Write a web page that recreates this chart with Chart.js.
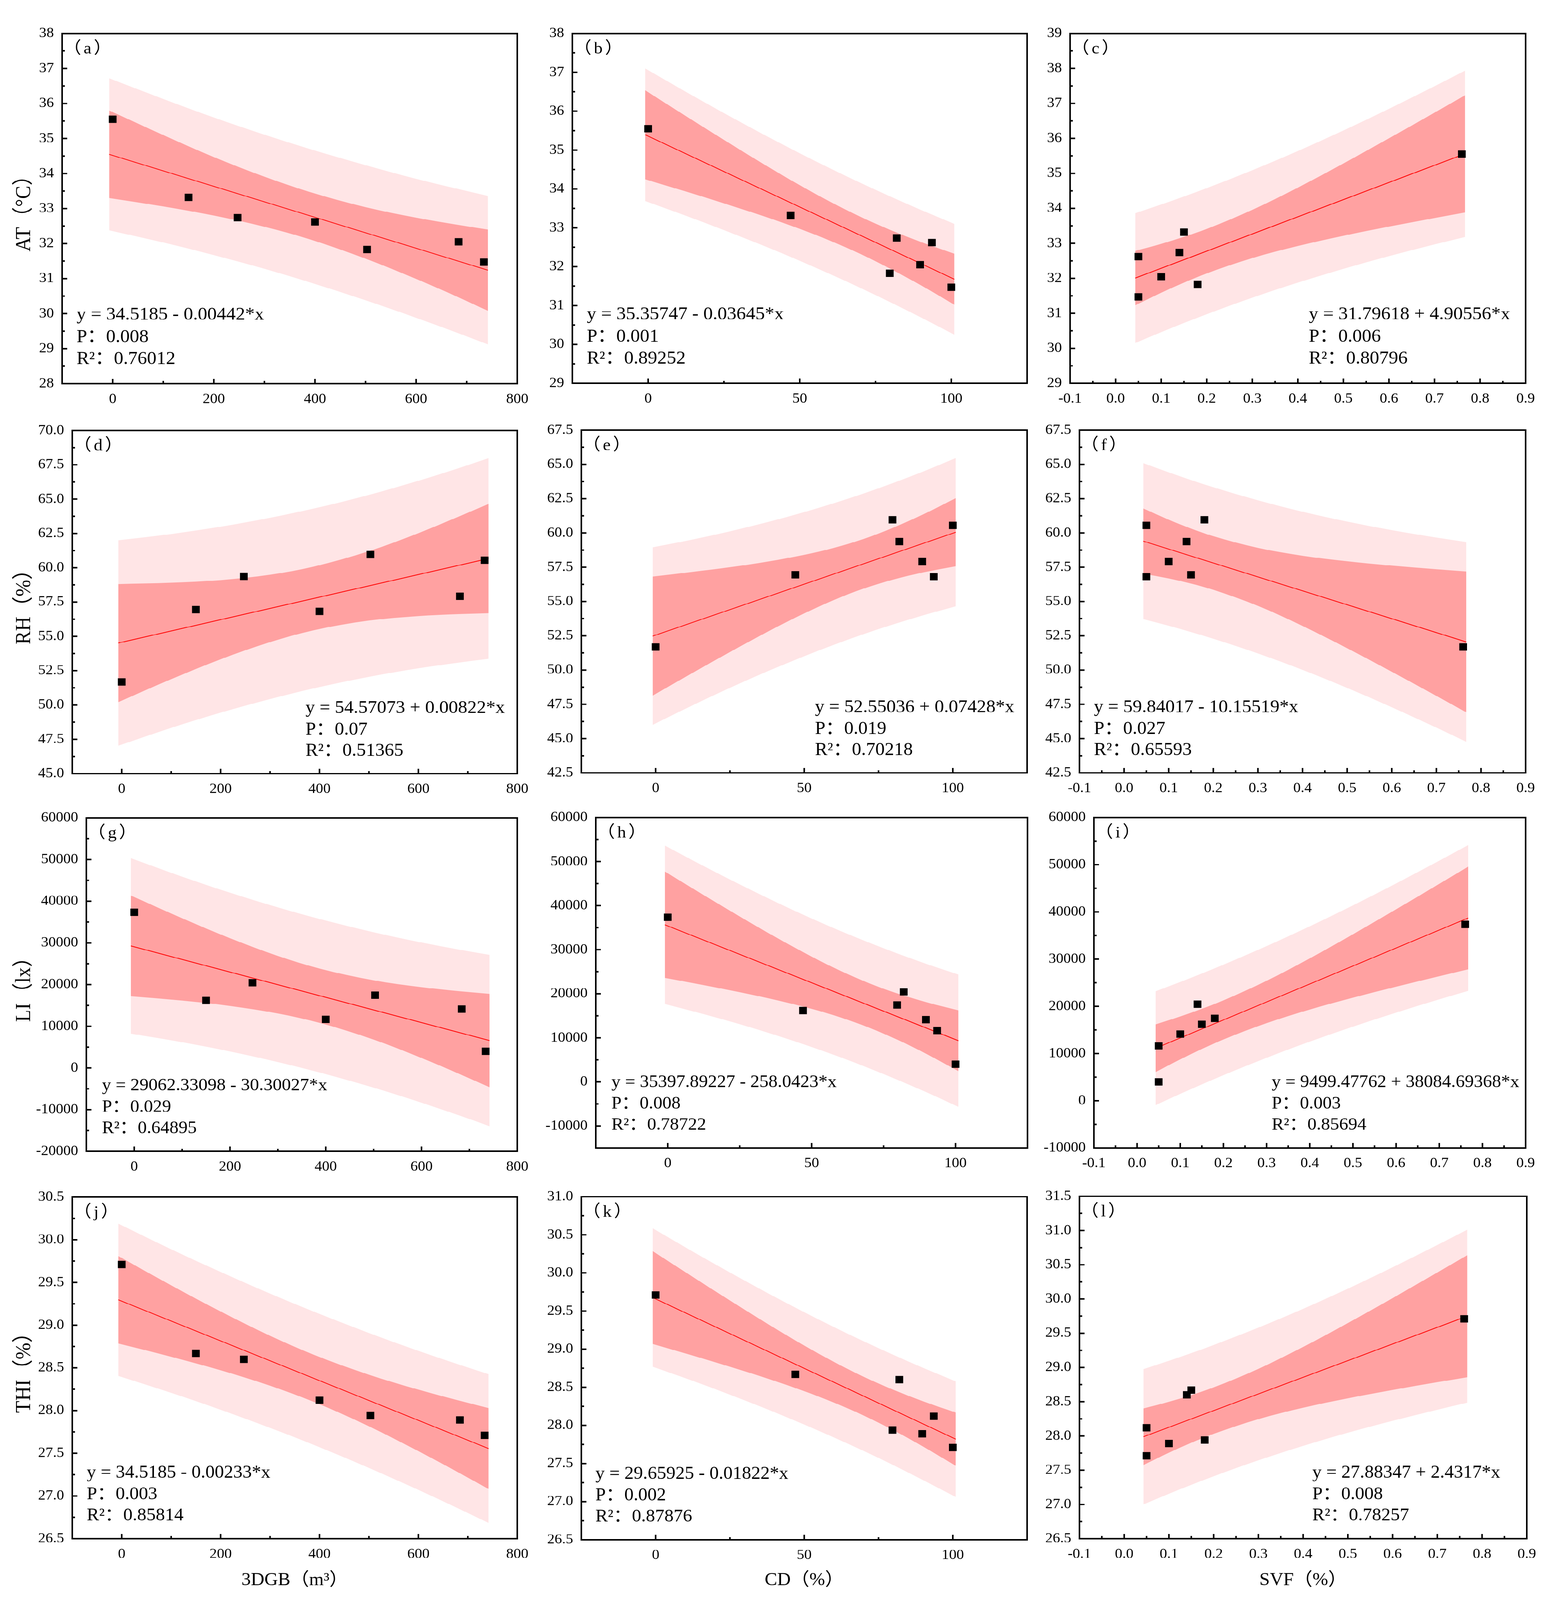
<!DOCTYPE html>
<html><head><meta charset="utf-8">
<script src="https://cdn.jsdelivr.net/npm/chart.js@4.4.1/dist/chart.umd.min.js"></script>
<style>
html,body{margin:0;padding:0;background:#fff;overflow:hidden;}
#stage{position:absolute;left:0;top:0;width:3993px;height:4304px;transform-origin:0 0;background:#fff;}
canvas{position:absolute;}
</style></head><body>
<div id="stage"></div>
<script>
// ---------------- data ----------------
// seven sites: predictors
const x3DGB = [0, 150, 247, 400, 503, 684, 734];
const xCD   = [0, 47, 82, 93.6, 79.7, 89.7, 100];
const xSVF  = [0.76, 0.15, 0.14, 0.05, 0.18, 0.10, 0.05];
// responses
const yAT  = [35.55, 33.32, 32.74, 32.62, 31.83, 32.05, 31.47];
const yRH  = [51.68, 56.95, 59.37, 56.82, 60.96, 57.92, 60.55];
const yLI  = [37350, 16180, 20450, 11650, 17450, 14120, 4000];
const yTHI = [29.71, 28.67, 28.60, 28.12, 27.94, 27.89, 27.71];

// x positions where the band edges were read
const bandX3DGB = [-7, 100, 200, 300, 388, 500, 600, 680, 742];
const bandXCD   = [-1, 12, 25, 38, 50, 60, 70, 80, 90, 101];
const bandXSVF  = [0.043, 0.1, 0.15, 0.2, 0.3, 0.4, 0.5, 0.6, 0.7, 0.767];
// fitted line end points
const fitX3DGB = [-7, 742];
const fitXCD   = [-1, 101];
const fitXSVF  = [0.043, 0.767];

// (a) AT vs 3DGB
const ciLoA = [33.30,33.06,32.80,32.48,32.13,31.57,30.99,30.49,30.08];
const ciHiA = [35.80,35.10,34.47,33.91,33.48,33.04,32.74,32.54,32.40];
const piLoA = [32.38,32.03,31.67,31.28,30.90,30.38,29.88,29.46,29.12];
const piHiA = [36.72,36.13,35.60,35.11,34.71,34.24,33.85,33.57,33.36];
const fitA  = [34.549, 31.239];
// (b) AT vs CD
const ciLoB = [34.249,33.944,33.630,33.301,32.973,32.669,32.328,31.942,31.519,31.020];
const ciHiB = [36.539,35.896,35.262,34.643,34.097,33.671,33.284,32.940,32.635,32.332];
const piLoB = [33.688,33.322,32.941,32.540,32.151,31.809,31.454,31.081,30.694,30.251];
const piHiB = [37.100,36.518,35.951,35.404,34.919,34.531,34.158,33.801,33.460,33.101];
const fitB  = [35.394, 31.676];
// (c) AT vs SVF
const ciLoC = [31.230,31.588,31.877,32.140,32.578,32.923,33.215,33.478,33.724,33.884];
const ciHiC = [32.784,32.986,33.187,33.414,33.958,34.593,35.283,36.002,36.736,37.234];
const piLoC = [30.151,30.462,30.723,30.974,31.446,31.877,32.271,32.634,32.969,33.182];
const piHiC = [33.863,34.112,34.341,34.580,35.090,35.639,36.227,36.846,37.491,37.936];
const fitC  = [32.007, 35.559];
// (d) RH vs 3DGB
const ciLoD = [50.21,51.88,53.33,54.58,55.44,56.15,56.48,56.62,56.69];
const ciHiD = [58.81,58.91,59.10,59.49,60.08,61.21,62.52,63.70,64.65];
const piLoD = [47.03,48.33,49.44,50.43,51.21,52.05,52.67,53.08,53.36];
const piHiD = [62.00,62.46,62.99,63.64,64.31,65.31,66.34,67.24,67.98];
const fitD  = [54.513, 60.670];
// (e) RH vs CD
const ciLoE = [48.13,49.74,51.31,52.83,54.13,55.11,55.94,56.60,57.12,57.57];
const ciHiE = [56.82,57.15,57.50,57.92,58.40,58.91,59.56,60.39,61.35,62.54];
const piLoE = [46.00,47.38,48.70,49.94,51.01,51.84,52.62,53.33,53.99,54.65];
const piHiE = [58.95,59.50,60.12,60.81,61.52,62.17,62.88,63.65,64.48,65.46];
const fitE  = [52.476, 60.053];
// (f) RH vs SVF
const ciLoF = [57.022,56.682,56.310,55.855,54.679,53.219,51.593,49.877,48.113,46.914];
const ciHiF = [61.786,60.968,60.324,59.763,58.909,58.337,57.933,57.617,57.351,57.188];
const piLoF = [53.712,53.228,52.771,52.282,51.208,50.009,48.698,47.289,45.799,44.763];
const piHiF = [65.096,64.422,63.863,63.336,62.380,61.547,60.828,60.205,59.665,59.339];
const fitF  = [59.404, 52.051];
// (g) LI vs 3DGB
const ciLoG = [17188,16155,14880,13073,10792,6791,2387,-1484,-4619];
const ciHiG = [41360,35909,31124,26871,23820,21033,19377,18400,17779];
const piLoG = [8224,6168,3950,1408,-1117,-4735,-8332,-11439,-13973];
const piHiG = [50324,45896,42054,38536,35729,32559,30096,28355,27133];
const fitG  = [29274, 6580];
// (h) LI vs CD
const ciLoH = [23590,22017,20350,18518,16569,14634,12296,9499,6294,2428];
const ciHiH = [47722,42585,37544,32666,28423,25196,22374,20009,18054,16244];
const piLoH = [17675,15465,13086,10501,7908,5577,3085,426,-2396,-5678];
const piHiH = [53637,49137,44808,40683,37084,34253,31585,29082,26744,24350];
const fitH  = [35656, 9336];
// (i) LI vs SVF
const ciLoI = [6092,8768,10961,12977,16446,19313,21827,24153,26376,27830];
const ciHiI = [16182,17848,19463,21255,25404,30153,35257,40547,45942,49590];
const piLoI = [-919,1455,3466,5409,9095,12515,15697,18671,21475,23274];
const piHiI = [23193,25161,26958,28823,32755,36951,41387,46029,50843,54146];
const fitI  = [11137, 38710];
// (j) THI vs 3DGB
const ciLoJ = [28.785,28.630,28.472,28.291,28.103,27.816,27.525,27.278,27.081];
const ciHiJ = [29.809,29.466,29.160,28.875,28.655,28.420,28.245,28.120,28.029];
const piLoJ = [28.405,28.207,28.009,27.797,27.599,27.328,27.071,26.856,26.684];
const piHiJ = [30.189,29.889,29.623,29.369,29.159,28.908,28.699,28.542,28.426];
const fitJ  = [29.297, 27.555];
// (k) THI vs CD
const ciLoK = [29.068,28.922,28.770,28.610,28.449,28.299,28.130,27.937,27.722,27.470];
const ciHiK = [30.286,29.960,29.638,29.324,29.047,28.833,28.638,28.467,28.316,28.168];
const piLoK = [28.769,28.591,28.403,28.205,28.011,27.842,27.665,27.479,27.283,27.061];
const piHiK = [30.585,30.291,30.005,29.729,29.485,29.290,29.103,28.925,28.755,28.577];
const fitK  = [29.677, 27.819];
// (l) THI vs SVF
const ciLoL = [27.575,27.755,27.900,28.031,28.246,28.412,28.549,28.671,28.785,28.858];
const ciHiL = [28.401,28.499,28.596,28.709,28.980,29.300,29.649,30.013,30.387,30.640];
const piLoL = [27.000,27.156,27.286,27.411,27.644,27.855,28.047,28.221,28.383,28.485];
const piHiL = [28.976,29.098,29.210,29.329,29.582,29.857,30.151,30.463,30.789,31.013];
const fitL  = [27.988, 29.749];

// tick labels
const xTicks3DGB = [0, 200, 400, 600, 800];
const xMinor3DGB = [100, 300, 500, 700];
const xTicksCD = [0, 50, 100];
const xMinorCD = [25, 75];
const xTicksSVF = [-0.1, 0, 0.1, 0.2, 0.3, 0.4, 0.5, 0.6, 0.7, 0.8, 0.9];
const xMinorSVF = [-0.05, 0.05, 0.15, 0.25, 0.35, 0.45, 0.55, 0.65, 0.75, 0.85];
const yTicksA = [28,29,30,31,32,33,34,35,36,37,38];
const yMinorA = [28.5,29.5,30.5,31.5,32.5,33.5,34.5,35.5,36.5,37.5];
const yTicksB = [29,30,31,32,33,34,35,36,37,38];
const yMinorB = [29.5,30.5,31.5,32.5,33.5,34.5,35.5,36.5,37.5];
const yTicksC = [29,30,31,32,33,34,35,36,37,38,39];
const yMinorC = [29.5,30.5,31.5,32.5,33.5,34.5,35.5,36.5,37.5,38.5];
const yTicksD = [45,47.5,50,52.5,55,57.5,60,62.5,65,67.5,70];
const yMinorD = [46.25,48.75,51.25,53.75,56.25,58.75,61.25,63.75,66.25,68.75];
const yTicksEF = [42.5,45,47.5,50,52.5,55,57.5,60,62.5,65,67.5];
const yMinorEF = [43.75,46.25,48.75,51.25,53.75,56.25,58.75,61.25,63.75,66.25];
const yTicksG = [-20000,-10000,0,10000,20000,30000,40000,50000,60000];
const yMinorG = [-15000,-5000,5000,15000,25000,35000,45000,55000];
const yTicksHI = [-10000,0,10000,20000,30000,40000,50000,60000];
const yMinorHI = [-5000,5000,15000,25000,35000,45000,55000];
const yTicksJ = [26.5,27,27.5,28,28.5,29,29.5,30,30.5];
const yMinorJ = [26.75,27.25,27.75,28.25,28.75,29.25,29.75,30.25];
const yTicksK = [26.5,27,27.5,28,28.5,29,29.5,30,30.5,31];
const yMinorK = [26.75,27.25,27.75,28.25,28.75,29.25,29.75,30.25,30.75];
const yTicksL = [26.5,27,27.5,28,28.5,29,29.5,30,30.5,31,31.5];
const yMinorL = [26.75,27.25,27.75,28.25,28.75,29.25,29.75,30.25,30.75,31.25];

// annotation texts
const eqTexts = [
  'y = 34.5185 - 0.00442*x', 'y = 35.35747 - 0.03645*x', 'y = 31.79618 + 4.90556*x',
  'y = 54.57073 + 0.00822*x', 'y = 52.55036 + 0.07428*x', 'y = 59.84017 - 10.15519*x',
  'y = 29062.33098 - 30.30027*x', 'y = 35397.89227 - 258.0423*x', 'y = 9499.47762 + 38084.69368*x',
  'y = 34.5185 - 0.00233*x', 'y = 29.65925 - 0.01822*x', 'y = 27.88347 + 2.4317*x'];
const pTexts = ['0.008','0.001','0.006','0.07','0.019','0.027','0.029','0.008','0.003','0.003','0.002','0.008'];
const r2Texts = ['0.76012','0.89252','0.80796','0.51365','0.70218','0.65593','0.64895','0.78722','0.85694','0.85814','0.87876','0.78257'];
const panelLabels = ['（a）','（b）','（c）','（d）','（e）','（f）','（g）','（h）','（i）','（j）','（k）','（l）'];
const yTitles = ['AT（°C）', 'RH（%）', 'LI（lx）', 'THI（%）'];
const xTitles = ['3DGB（m³）', 'CD（%）', 'SVF（%）'];

// ---------------- styling / layout ----------------
const FONT = '"Liberation Serif", "Times New Roman", "Noto Sans CJK SC", serif';
const DARK = 'rgb(255,161,161)';
const LIGHT = 'rgb(255,229,230)';
const COL_LEFT = [0, 1290, 2600];
const ANNOT_SIZE = [48.5, 48, 46.5, 47.5];

const stage = document.getElementById('stage');
const SX = (window.innerWidth || 3993) / 3993, SY = (window.innerHeight || 4304) / 4304;
stage.style.transform = 'scale(' + SX + ',' + SY + ')';

const X_SET = [
  {x: x3DGB, bandX: bandX3DGB, fitX: fitX3DGB, xr: [-100, 800], xt: xTicks3DGB, xm: xMinor3DGB, xd: 0},
  {x: xCD, bandX: bandXCD, fitX: fitXCD, xr: [-25, 125], xt: xTicksCD, xm: xMinorCD, xd: 0},
  {x: xSVF, bandX: bandXSVF, fitX: fitXSVF, xr: [-0.1, 0.9], xt: xTicksSVF, xm: xMinorSVF, xd: 1}
];
const Y_SET = [yAT, yRH, yLI, yTHI];

const panels = [
  {ci: [ciLoA, ciHiA], pi: [piLoA, piHiA], fit: fitA, yr: [28, 38], yt: yTicksA, ym: yMinorA, yd: 0, box: [159, 90, 1324, 1032], tx: 37},
  {ci: [ciLoB, ciHiB], pi: [piLoB, piHiB], fit: fitB, yr: [29, 38], yt: yTicksB, ym: yMinorB, yd: 0, box: [1465, 90, 2629, 1031], tx: 37},
  {ci: [ciLoC, ciHiC], pi: [piLoC, piHiC], fit: fitC, yr: [29, 39], yt: yTicksC, ym: yMinorC, yd: 0, box: [2739, 90, 3905, 1031], tx: 611},
  {ci: [ciLoD, ciHiD], pi: [piLoD, piHiD], fit: fitD, yr: [45, 70], yt: yTicksD, ym: yMinorD, yd: 1, box: [185, 1158, 1324, 2081], tx: 597},
  {ci: [ciLoE, ciHiE], pi: [piLoE, piHiE], fit: fitE, yr: [42.5, 67.5], yt: yTicksEF, ym: yMinorEF, yd: 1, box: [1488, 1157, 2629, 2079], tx: 598},
  {ci: [ciLoF, ciHiF], pi: [piLoF, piHiF], fit: fitF, yr: [42.5, 67.5], yt: yTicksEF, ym: yMinorEF, yd: 1, box: [2763, 1157, 3905, 2079], tx: 37},
  {ci: [ciLoG, ciHiG], pi: [piLoG, piHiG], fit: fitG, yr: [-20000, 60000], yt: yTicksG, ym: yMinorG, yd: 0, box: [221, 2200, 1324, 3097], tx: 40},
  {ci: [ciLoH, ciHiH], pi: [piLoH, piHiH], fit: fitH, yr: [-15000, 60000], yt: yTicksHI, ym: yMinorHI, yd: 0, box: [1525, 2199, 2630, 3088], tx: 40},
  {ci: [ciLoI, ciHiI], pi: [piLoI, piHiI], fit: fitI, yr: [-10000, 60000], yt: yTicksHI, ym: yMinorHI, yd: 0, box: [2800, 2199, 3905, 3088], tx: 455},
  {ci: [ciLoJ, ciHiJ], pi: [piLoJ, piHiJ], fit: fitJ, yr: [26.5, 30.5], yt: yTicksJ, ym: yMinorJ, yd: 1, box: [185, 3220, 1324, 4139], tx: 37},
  {ci: [ciLoK, ciHiK], pi: [piLoK, piHiK], fit: fitK, yr: [26.5, 31], yt: yTicksK, ym: yMinorK, yd: 1, box: [1488, 3219, 2629, 4142], tx: 36},
  {ci: [ciLoL, ciHiL], pi: [piLoL, piHiL], fit: fitL, yr: [26.5, 31.5], yt: yTicksL, ym: yMinorL, yd: 1, box: [2763, 3218, 3908, 4139], tx: 596}
];

function fmt(v, d) { return d ? Number(v).toFixed(d) : String(Math.round(v)); }

function decor(p, idx, row, xs) {
  return {
    id: 'decor' + idx,
    afterDraw(chart) {
      const {ctx, chartArea: a, scales: {x, y}} = chart;
      ctx.save();
      ctx.strokeStyle = '#000';
      ctx.lineWidth = 4;
      ctx.beginPath();
      xs.xt.forEach(v => { const px = x.getPixelForValue(v); ctx.moveTo(px, a.bottom); ctx.lineTo(px, a.bottom - 13); });
      xs.xm.forEach(v => { const px = x.getPixelForValue(v); ctx.moveTo(px, a.bottom); ctx.lineTo(px, a.bottom - 7); });
      p.yt.forEach(v => { const py = y.getPixelForValue(v); ctx.moveTo(a.left, py); ctx.lineTo(a.left + 13, py); });
      p.ym.forEach(v => { const py = y.getPixelForValue(v); ctx.moveTo(a.left, py); ctx.lineTo(a.left + 7, py); });
      ctx.stroke();
      ctx.strokeRect(a.left, a.top, a.right - a.left, a.bottom - a.top);
      ctx.fillStyle = '#000';
      ctx.textBaseline = 'middle';
      ctx.textAlign = 'left';
      ctx.font = '45px ' + FONT;
      if ('letterSpacing' in ctx) ctx.letterSpacing = '6px';
      ctx.fillText(panelLabels[idx], a.left + 4, a.top + 42);
      if ('letterSpacing' in ctx) ctx.letterSpacing = '0px';
      ctx.font = ANNOT_SIZE[row] + 'px ' + FONT;
      const offs = row === 0 ? [185, 125, 66] : [176, 118, 61];
      const lines = [eqTexts[idx], 'P：' + pTexts[idx], 'R²：' + r2Texts[idx]];
      lines.forEach((s, i) => ctx.fillText(s, a.left + p.tx, a.bottom - offs[i]));
      ctx.restore();
    }
  };
}

panels.forEach((p, idx) => {
  const row = Math.floor(idx / 3), col = idx % 3;
  const xs = X_SET[col];
  const yv = Y_SET[row];
  const [L, T, R, B] = p.box;
  const cLeft = COL_LEFT[col];
  const cTop = T - 60;
  const cBottom = row === 3 ? 4304 : B + 90;
  const cRight = col === 2 ? 3993 : R + 60;
  const W = cRight - cLeft, H = cBottom - cTop;
  const PADL = L - cLeft, PADT = T - cTop, PADR = cRight - R, PADB = cBottom - B;
  const cv = document.createElement('canvas');
  cv.width = W; cv.height = H;
  cv.style.left = cLeft + 'px'; cv.style.top = cTop + 'px';
  cv.style.width = W + 'px'; cv.style.height = H + 'px';
  stage.appendChild(cv);

  const pts = xs.x.map((v, i) => ({x: v, y: yv[i]}));
  const band = arr => xs.bandX.map((v, i) => ({x: v, y: arr[i]}));
  const fitPts = xs.fitX.map((v, i) => ({x: v, y: p.fit[i]}));
  const bandDs = (arr, fill, color) => ({
    type: 'line', data: band(arr), borderColor: 'rgba(0,0,0,0)', borderWidth: 0,
    pointRadius: 0, pointHoverRadius: 0, fill: fill, backgroundColor: color,
    cubicInterpolationMode: 'monotone'
  });

  new Chart(cv, {
    type: 'scatter',
    data: {
      datasets: [
        {data: pts, pointStyle: 'rect', pointRadius: 14, pointHoverRadius: 14,
         backgroundColor: '#000', borderColor: '#000', borderWidth: 0},
        {type: 'line', data: fitPts, borderColor: '#ff0000', borderWidth: 2,
         pointRadius: 0, pointHoverRadius: 0, fill: false},
        bandDs(p.ci[1], '+1', DARK),
        bandDs(p.ci[0], false, DARK),
        bandDs(p.pi[1], '+1', LIGHT),
        bandDs(p.pi[0], false, LIGHT)
      ]
    },
    options: {
      responsive: false, animation: false, devicePixelRatio: 1,
      layout: {padding: {top: PADT, right: PADR, left: 0, bottom: 0}},
      plugins: {legend: {display: false}, tooltip: {enabled: false}},
      scales: {
        x: {
          type: 'linear', position: 'bottom', min: xs.xr[0], max: xs.xr[1],
          afterBuildTicks: s => { s.ticks = xs.xt.map(v => ({value: v})); },
          ticks: {autoSkip: false, maxRotation: 0, minRotation: 0, padding: 19, color: '#000',
                  font: {family: FONT, size: 38}, callback: v => fmt(v, xs.xd)},
          grid: {display: false, drawTicks: false}, border: {display: false},
          title: row === 3 ? {display: true, text: xTitles[col], color: '#000',
                  font: {family: FONT, size: 48}, padding: {top: 0, bottom: 24}} : {display: false},
          afterFit: s => { s.height = PADB; s.paddingLeft = 0; s.paddingRight = 0; }
        },
        y: {
          type: 'linear', position: 'left', min: p.yr[0], max: p.yr[1],
          afterBuildTicks: s => { s.ticks = p.yt.map(v => ({value: v})); },
          ticks: {autoSkip: false, padding: 21, color: '#000',
                  font: {family: FONT, size: 38}, callback: v => fmt(v, p.yd)},
          grid: {display: false, drawTicks: false}, border: {display: false},
          title: col === 0 ? {display: true, text: yTitles[row], color: '#000',
                  font: {family: FONT, size: 54}, padding: {top: 30, bottom: 0}} : {display: false},
          afterFit: s => { s.width = PADL; s.paddingTop = 0; s.paddingBottom = 0; }
        }
      }
    },
    plugins: [decor(p, idx, row, xs)]
  });
});
</script>
</body></html>
